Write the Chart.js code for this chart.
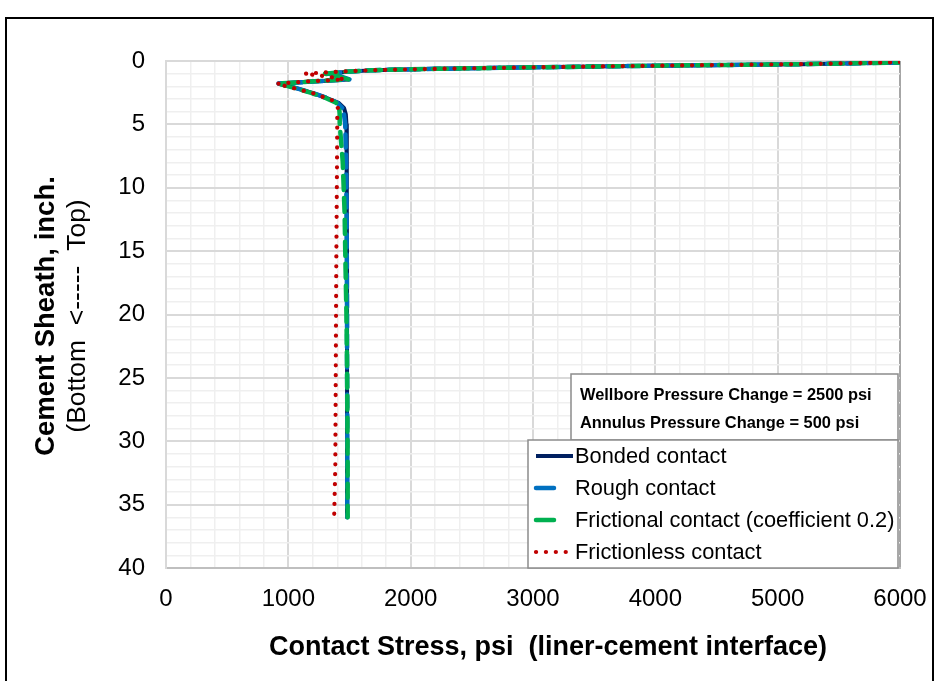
<!DOCTYPE html>
<html>
<head>
<meta charset="utf-8">
<script src="https://cdn.jsdelivr.net/npm/chart.js@4.4.1/dist/chart.umd.min.js"></script>
<style>
  html, body { margin: 0; padding: 0; background: #fff; }
  #frame { position: absolute; left: 5px; top: 17px; width: 929px; height: 700px; border: 2.5px solid #000; box-sizing: border-box; }
  #stressChart { position: absolute; left: 0; top: 0; }
</style>
</head>
<body>
<div id="frame"></div>
<canvas id="stressChart" width="936" height="681"></canvas>
<script>
// depth along the cement sheath (inch) and contact stress (psi)
var depthIn = [0.12, 0.25, 0.37, 0.5, 0.62, 0.72, 0.85, 1.0, 1.2, 1.45, 1.62, 1.78, 2.1, 2.5, 2.9, 3.3, 3.7, 4.2, 5, 8, 12, 16, 20, 24, 28, 32, 36];
var bondedPsi = [6000, 5200, 4000, 3000, 2200, 1700, 1480, 1330, 1400, 1490, 1200, 920, 1050, 1190, 1310, 1410, 1455, 1470, 1475, 1478, 1478, 1480, 1480, 1480, 1480, 1480, 1480];
var roughPsi = [6000, 5200, 4000, 3000, 2200, 1700, 1480, 1330, 1420, 1500, 1200, 920, 1050, 1190, 1310, 1400, 1440, 1455, 1465, 1472, 1476, 1478, 1480, 1480, 1482, 1482, 1482];
var frictionalPsi = [6000, 5200, 4000, 3000, 2200, 1700, 1450, 1300, 1400, 1490, 1180, 915, 1040, 1180, 1300, 1390, 1415, 1420, 1420, 1445, 1460, 1467, 1475, 1480, 1483, 1485, 1485];

var depthFrictionless = [0.1, 0.25, 0.37, 0.5, 0.62, 0.72, 0.85, 1.0, 1.2, 1.45, 1.62, 1.8, 2.1, 2.3, 2.5, 2.8, 3.1, 3.7, 4.5, 8, 12, 16, 20, 24, 28, 32, 35.8];
var frictionlessPsi = [6000, 5200, 4000, 3000, 2200, 1700, 1400, 1130, 1300, 1460, 1150, 905, 1030, 1110, 1190, 1275, 1360, 1405, 1400, 1398, 1395, 1392, 1390, 1388, 1386, 1384, 1375];

var seriesNames = ["Bonded contact", "Rough contact", "Frictional contact (coefficient 0.2)", "Frictionless contact"];
var xTicks = [0, 1000, 2000, 3000, 4000, 5000, 6000];
var yTicks = [0, 5, 10, 15, 20, 25, 30, 35, 40];
var xTitle = "Contact Stress, psi  (liner-cement interface)";
var yTitle = ["Cement Sheath, inch.", "(Bottom  <-----  Top)"];
var noteLines = ["Wellbore Pressure Change = 2500 psi", "Annulus Pressure Change = 500 psi"];

var fontFamily = "'Liberation Sans', Arial, sans-serif";

function toPoints(xs, ys) {
    var pts = [];
    for (var i = 0; i < xs.length; i++) pts.push({ x: xs[i], y: ys[i] });
    return pts;
}

// titles, note box and legend drawn on top of the plot
var overlay = {
    id: 'overlay',
    afterDraw: function(chart) {
	var ctx = chart.ctx;
	ctx.save();
	ctx.fillStyle = '#000';
	ctx.textBaseline = 'middle';

	// x title
	ctx.textAlign = 'center';
	ctx.font = 'bold 27px ' + fontFamily;
	ctx.fillText(xTitle, 548, 648);

	// y title, two lines
	ctx.save();
	ctx.translate(46, 316);
	ctx.rotate(-Math.PI / 2);
	ctx.font = 'bold 27.5px ' + fontFamily;
	ctx.fillText(yTitle[0], 0, 0);
	ctx.font = '26.5px ' + fontFamily;
	ctx.fillText(yTitle[1], 0, 32);
	ctx.restore();

	// note box
	ctx.fillStyle = '#fff';
	ctx.fillRect(571, 374, 327, 66);
	ctx.strokeStyle = '#8c8c8c';
	ctx.lineWidth = 1.5;
	ctx.strokeRect(571, 374, 327, 66);
	ctx.fillStyle = '#000';
	ctx.textAlign = 'left';
	ctx.font = 'bold 16.4px ' + fontFamily;
	ctx.fillText(noteLines[0], 580, 395);
	ctx.fillText(noteLines[1], 580, 423);

	// legend
	ctx.fillStyle = '#fff';
	ctx.fillRect(528, 440, 370, 128);
	ctx.strokeRect(528, 440, 370, 128);
	var sampleLen = [37, 18, 18, 37];
	ctx.font = '21.8px ' + fontFamily;
	chart.data.datasets.forEach(function(ds, i) {
	    var y = 456 + i * 32;
	    ctx.save();
	    ctx.strokeStyle = ds.borderColor;
	    ctx.lineWidth = ds.borderWidth;
	    ctx.lineCap = ds.borderCapStyle || 'butt';
	    ctx.setLineDash(i === 3 ? ds.borderDash : []);
	    ctx.beginPath();
	    ctx.moveTo(536, y);
	    ctx.lineTo(536 + sampleLen[i], y);
	    ctx.stroke();
	    ctx.restore();
	    ctx.fillStyle = '#000';
	    ctx.fillText(seriesNames[i], 575, y + 1);
	});
	ctx.restore();
    }
};

function gridColor(ctx, step) {
    var v = ctx.tick.value;
    if (v === 6000) return '#a6a6a6';
    return v % step === 0 ? '#d9d9d9' : '#efefef';
}

var chart = new Chart(document.getElementById("stressChart"), {
    type : 'scatter',
    data : {
	datasets : [ {
	    label : seriesNames[0],
	    data : toPoints(bondedPsi, depthIn),
	    borderColor : '#002060',
	    borderWidth : 4,
	    order : 4
	}, {
	    label : seriesNames[1],
	    data : toPoints(roughPsi, depthIn),
	    borderColor : '#0070C0',
	    borderWidth : 4.5,
	    borderDash : [ 13, 7 ],
	    borderCapStyle : 'round',
	    order : 3
	}, {
	    label : seriesNames[2],
	    data : toPoints(frictionalPsi, depthIn),
	    borderColor : '#00B050',
	    borderWidth : 4.5,
	    borderDash : [ 14, 8 ],
	    borderDashOffset : 9,
	    borderCapStyle : 'round',
	    order : 2
	}, {
	    label : seriesNames[3],
	    data : toPoints(frictionlessPsi, depthFrictionless),
	    borderColor : '#C00000',
	    borderWidth : 4.2,
	    borderDash : [ 0.1, 9.8 ],
	    borderCapStyle : 'round',
	    order : 1
	} ].map(function(ds) {
	    ds.showLine = true;
	    ds.pointRadius = 0;
	    ds.tension = 0;
	    ds.fill = false;
	    ds.borderJoinStyle = 'round';
	    return ds;
	})
    },
    options : {
	responsive : false,
	animation : false,
	devicePixelRatio : 1,
	layout : { padding : { left : 0, right : 36, top : 61, bottom : 0 } },
	plugins : { legend : { display : false }, tooltip : { enabled : false } },
	scales : {
	    x : {
		type : 'linear',
		min : 0,
		max : 6000,
		afterFit : function(s) { s.height = 113; },
		afterBuildTicks : function(s) {
		    var t = [];
		    for (var v = 0; v <= 6000; v += 200) t.push({ value : v });
		    s.ticks = t;
		},
		ticks : {
		    autoSkip : false,
		    maxRotation : 0,
		    padding : 0,
		    color : '#000',
		    font : { family : fontFamily, size : 24 },
		    callback : function(v) { return xTicks.indexOf(v) >= 0 ? String(v) : ''; }
		},
		grid : {
		    drawTicks : true,
		    tickLength : 17,
		    tickColor : 'rgba(0,0,0,0)',
		    color : function(c) { return gridColor(c, 1000); },
		    lineWidth : function(c) { return c.tick.value % 1000 === 0 ? 2 : 1.5; }
		},
		border : { display : true, color : '#bfbfbf', width : 2 }
	    },
	    y : {
		type : 'linear',
		reverse : true,
		min : 0,
		max : 40,
		afterFit : function(s) { s.width = 166; },
		afterBuildTicks : function(s) {
		    var t = [];
		    for (var v = 0; v <= 40; v += 1) t.push({ value : v });
		    s.ticks = t;
		},
		ticks : {
		    autoSkip : false,
		    padding : 21,
		    color : '#000',
		    font : { family : fontFamily, size : 24 },
		    callback : function(v) { return yTicks.indexOf(v) >= 0 ? String(v) : ''; }
		},
		grid : {
		    drawTicks : false,
		    color : function(c) { return gridColor(c, 5); },
		    lineWidth : function(c) { return c.tick.value % 5 === 0 ? 2 : 1.5; }
		},
		border : { display : true, color : '#d9d9d9', width : 2 }
	    }
	}
    },
    plugins : [ overlay ]
});
</script>
</body>
</html>
